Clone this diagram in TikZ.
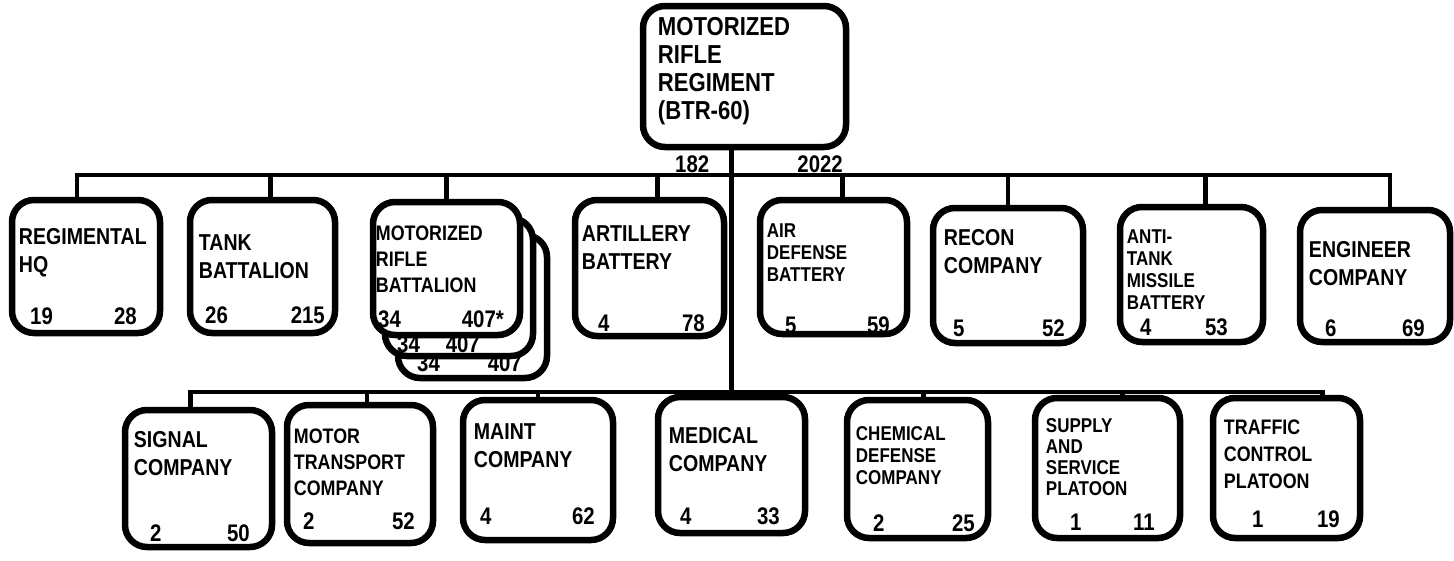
\documentclass[tikz,border=0pt]{standalone}
\usepackage{fontspec}
\setmainfont{Liberation Sans}[FakeStretch=0.85]
\begin{document}
\begin{tikzpicture}[x=1pt,y=-1pt]
\tikzset{
  unitbox/.style={draw, line width=6.5pt, rounded corners=22pt, fill=white, inner sep=0pt},
  conn/.style={line width=4.5pt},
  lbl/.style={anchor=north west, inner sep=0pt, align=left, font=\bfseries\fontsize{23}{28}\selectfont},
  tight/.style={font=\bfseries\fontsize{20}{22}\selectfont},
  mid/.style={font=\bfseries\fontsize{21}{26}\selectfont},
  numl/.style={anchor=base west, inner sep=0pt, font=\bfseries\fontsize{24}{26}\selectfont},
  numr/.style={anchor=base east, inner sep=0pt, font=\bfseries\fontsize{24}{26}\selectfont},
}
% box from (x1,y1) to (x2,y2)
\newcommand\orgbox[5]{%
  \node[unitbox, minimum width={(#4-#2)*1pt}, minimum height={(#5-#3)*1pt}]
    (#1) at ({(#2+#4)/2},{(#3+#5)/2}) {};}

\useasboundingbox (0,0) rectangle (1454,560);

% regiment
\orgbox{reg}{643}{6}{846}{147}
\node[lbl, font=\bfseries\fontsize{26}{28}\selectfont] (reg-l) at ([shift={(18,14)}]reg.north west)
  {MOTORIZED\\RIFLE\\REGIMENT\\(BTR-60)};
\node[numl] (reg-a) at (675,172) {182};
\node[numr] (reg-b) at (843,172) {2022};

% first row
\orgbox{hq}{12}{200}{160}{333}
\node[lbl] (hq-l) at ([shift={(10,31)}]hq.north west) {REGIMENTAL\\HQ};
\node[numl] (hq-a) at (30,324) {19};
\node[numr] (hq-b) at (137,324) {28};

\orgbox{tank}{190}{200}{335}{333}
\node[lbl] (tank-l) at ([shift={(12,38)}]tank.north west) {TANK\\BATTALION};
\node[numl] (tank-a) at (205,323) {26};
\node[numr] (tank-b) at (325,323) {215};

\orgbox{mrb3}{398}{235}{547}{378}
\node[numl] (mrb3-a) at (417,371) {34};
\node[numr] (mrb3-b) at (522,371) {407};
\orgbox{mrb2}{385}{218}{533}{356}
\node[numl] (mrb2-a) at (397,352) {34};
\node[numr] (mrb2-b) at (480,352) {407};
\orgbox{mrb}{373}{202}{520}{335}
\node[lbl, mid] (mrb-l) at ([shift={(6,27)}]mrb.north west) {MOTORIZED\\RIFLE\\BATTALION};
\node[numl] (mrb-a) at (378,327) {34};
\node[numr] (mrb-b) at (504,327) {407*};

\orgbox{art}{575}{200}{724}{336}
\node[lbl] (art-l) at ([shift={(10,29)}]art.north west) {ARTILLERY\\BATTERY};
\node[numl] (art-a) at (598,331) {4};
\node[numr] (art-b) at (705,331) {78};

\orgbox{ad}{760}{200}{907}{334}
\node[lbl, tight] (ad-l) at ([shift={(10,27)}]ad.north west) {AIR\\DEFENSE\\BATTERY};
\node[numl] (ad-a) at (785,333) {5};
\node[numr] (ad-b) at (890,333) {59};

\orgbox{rec}{933}{208}{1083}{343}
\node[lbl] (rec-l) at ([shift={(14,24)}]rec.north west) {RECON\\COMPANY};
\node[numl] (rec-a) at (953,336) {5};
\node[numr] (rec-b) at (1065,336) {52};

\orgbox{atm}{1120}{207}{1263}{342}
\node[lbl, tight] (atm-l) at ([shift={(10,26)}]atm.north west) {ANTI-\\TANK\\MISSILE\\BATTERY};
\node[numl] (atm-a) at (1140,335) {4};
\node[numr] (atm-b) at (1228,335) {53};

\orgbox{eng}{1300}{210}{1450}{342}
\node[lbl] (eng-l) at ([shift={(12,34)}]eng.north west) {ENGINEER\\COMPANY};
\node[numl] (eng-a) at (1325,336) {6};
\node[numr] (eng-b) at (1425,336) {69};

% second row
\orgbox{sig}{125}{410}{272}{547}
\node[lbl] (sig-l) at ([shift={(12,24)}]sig.north west) {SIGNAL\\COMPANY};
\node[numl] (sig-a) at (150,541) {2};
\node[numr] (sig-b) at (250,541) {50};

\orgbox{mt}{287}{405}{433}{543}
\node[lbl, mid] (mt-l) at ([shift={(10,27)}]mt.north west) {MOTOR\\TRANSPORT\\COMPANY};
\node[numl] (mt-a) at (303,529) {2};
\node[numr] (mt-b) at (415,529) {52};

\orgbox{mnt}{463}{400}{613}{540}
\node[lbl] (mnt-l) at ([shift={(14,27)}]mnt.north west) {MAINT\\COMPANY};
\node[numl] (mnt-a) at (480,524) {4};
\node[numr] (mnt-b) at (595,524) {62};

\orgbox{med}{658}{397}{805}{533}
\node[lbl] (med-l) at ([shift={(14,33)}]med.north west) {MEDICAL\\COMPANY};
\node[numl] (med-a) at (680,524) {4};
\node[numr] (med-b) at (780,524) {33};

\orgbox{chm}{847}{400}{988}{538}
\node[lbl, tight] (chm-l) at ([shift={(12,30)}]chm.north west) {CHEMICAL\\DEFENSE\\COMPANY};
\node[numl] (chm-a) at (873,531) {2};
\node[numr] (chm-b) at (975,531) {25};

\orgbox{sup}{1035}{398}{1180}{538}
\node[lbl, font=\bfseries\fontsize{20}{21}\selectfont] (sup-l) at ([shift={(14,24)}]sup.north west) {SUPPLY\\AND\\SERVICE\\PLATOON};
\node[numl] (sup-a) at (1070,530) {1};
\node[numr] (sup-b) at (1155,530) {11};

\orgbox{tcp}{1213}{398}{1360}{538}
\node[lbl, font=\bfseries\fontsize{21}{27}\selectfont] (tcp-l) at ([shift={(14,25)}]tcp.north west) {TRAFFIC\\CONTROL\\PLATOON};
\node[numl] (tcp-a) at (1252,527) {1};
\node[numr] (tcp-b) at (1340,527) {19};

% drop points on the box tops
\coordinate (hq-d)   at ([xshift=-9]hq.north);
\coordinate (tank-d) at ([xshift=8]tank.north);
\coordinate (art-d)  at ([xshift=8]art.north);
\coordinate (ad-d)   at ([xshift=9]ad.north);
\coordinate (atm-d)  at ([xshift=14]atm.north);
\coordinate (eng-d)  at ([xshift=15]eng.north);
\coordinate (sig-d)  at ([xshift=-8]sig.north);
\coordinate (mt-d)   at ([xshift=7]mt.north);
\coordinate (chm-d)  at ([xshift=6]chm.north);
\coordinate (sup-d)  at ([xshift=15]sup.north);
\coordinate (tcp-d)  at ([xshift=36]tcp.north);

% connectors
\coordinate (bus1) at (0,175);
\coordinate (bus2) at (0,392);
\draw[conn] (hq-d) -- (hq-d |- bus1) -- (bus1 -| eng-d) -- (eng-d);
\foreach \u in {tank-d,mrb.north,art-d,ad-d,rec.north,atm-d}
  \draw[conn] (\u) -- (\u |- bus1);
\draw[conn] (reg.south -| med.north) -- (med.north);
\draw[conn] (sig-d) -- (sig-d |- bus2) -- (bus2 -| tcp-d) -- (tcp-d);
\foreach \u in {mt-d,mnt.north,chm-d,sup-d}
  \draw[conn] (\u) -- (\u |- bus2);
\end{tikzpicture}
\end{document}
